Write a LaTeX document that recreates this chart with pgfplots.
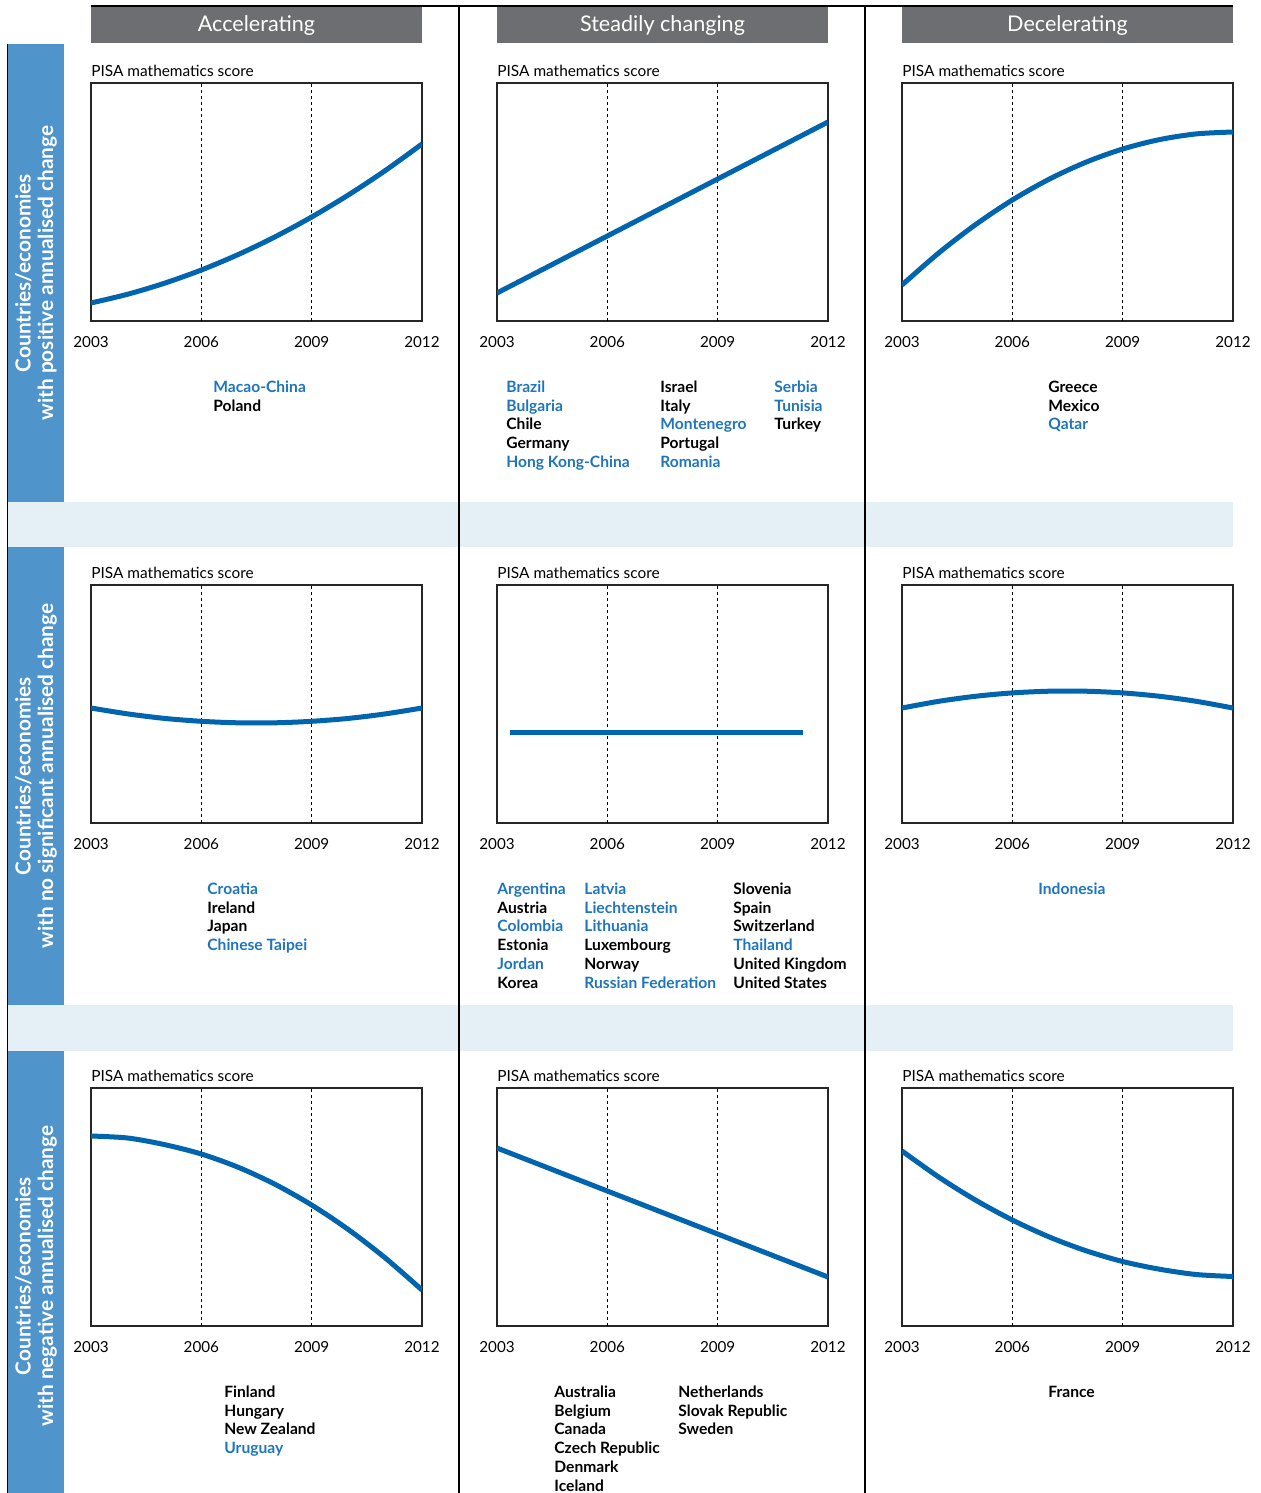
\documentclass[border=0pt]{standalone}
\usepackage{fontspec}
\setmainfont{Lato}
\usepackage{pgfplots}
\pgfplotsset{compat=1.18}

\definecolor{lineblue}{RGB}{0,101,174}
\definecolor{bandblue}{RGB}{79,148,203}
\definecolor{lightband}{RGB}{228,239,246}
\definecolor{headgray}{RGB}{109,110,113}
\definecolor{b}{RGB}{31,117,188}
\colorlet{k}{black}

\pgfplotsset{panel/.style={
    scale only axis, width=165.5pt, height=119pt, anchor=south west,
    xmin=2003, xmax=2012, ymin=0, ymax=238,
    xtick={2003,2006,2009,2012}, xticklabels={2003,2006,2009,2012},
    ytick=\empty, major tick length=0pt,
    extra x ticks={2006,2009}, extra x tick labels={},
    extra x tick style={grid=major,
      major grid style={black, line width=0.45pt, dash pattern=on 1.6pt off 1.4pt}},
    axis line style={black!85, line width=0.6pt},
    title={PISA mathematics score},
    title style={at={(0,1)}, anchor=base west, inner sep=0pt, yshift=-2.5pt,
      font=\fontsize{7.7}{9}\selectfont},
    xticklabel style={anchor=base, inner sep=0pt, yshift=-13pt,
      font=\fontsize{7.6}{9}\selectfont},
  },
  curve/.style={lineblue, line width=2.5pt, smooth, no marks}}

\newcommand{\names}[3]{%
  \foreach \c/\n [count=\i from 0] in {#3}
    \node[anchor=base west, inner sep=0pt, text=\c,
      font=\fontsize{7.8}{9}\bfseries\selectfont] at (#1,{#2+\i*18.7}) {\n};}

\begin{document}
\begin{tikzpicture}
\begin{scope}[x=0.5pt, y=-0.5pt]
  \useasboundingbox (0,0) rectangle (1260,1493);
  % background bands
  \fill[lightband] (7,502) rectangle (1233,547);
  \fill[lightband] (7,1005) rectangle (1233,1051);
  \fill[bandblue] (7,44) rectangle (64,502);
  \fill[bandblue] (7,547) rectangle (64,1005);
  \fill[bandblue] (7,1051) rectangle (64,1493);
  \draw[black, line width=0.7pt] (7.5,44) -- (7.5,1493);
  \draw[black, line width=0.7pt] (91,6) -- (1233,6);
  \draw[black, line width=0.7pt] (459,6) -- (459,1493);
  \draw[black, line width=0.7pt] (865,6) -- (865,1493);
  % column headers
  \foreach \x/\t in {91/Accelerating, 497/Steadily changing, 902/Decelerating} {
    \fill[headgray] (\x,7) rectangle ({\x+331},43);
    \node[text=white, inner sep=0pt, font=\fontsize{10.8}{12}\selectfont, anchor=base]
      at ({\x+165.5},31.5) {\t};
  }
  % row labels
  \foreach \yc/\t in {273/with positive annualised change,
                      776/with no significant annualised change,
                      1276/with negative annualised change}
    \node[rotate=90, text=white, align=center, inner sep=0pt,
      font=\fontsize{10.4}{11.2}\bfseries\selectfont] at (36,\yc)
      {Countries/economies\\\t};
  % country lists
  \names{213}{392.5}{b/Macao-China, k/Poland}
  \names{506}{392.5}{b/Brazil, b/Bulgaria, k/Chile, k/Germany, b/Hong Kong-China}
  \names{660}{392.5}{k/Israel, k/Italy, b/Montenegro, k/Portugal, b/Romania}
  \names{774}{392.5}{b/Serbia, b/Tunisia, k/Turkey}
  \names{1048}{392.5}{k/Greece, k/Mexico, b/Qatar}
  \names{207}{894.5}{b/Croatia, k/Ireland, k/Japan, b/Chinese Taipei}
  \names{497}{894.5}{b/Argentina, k/Austria, b/Colombia, k/Estonia, b/Jordan, k/Korea}
  \names{584}{894.5}{b/Latvia, b/Liechtenstein, b/Lithuania, k/Luxembourg, k/Norway, b/Russian Federation}
  \names{733}{894.5}{k/Slovenia, k/Spain, k/Switzerland, b/Thailand, k/United Kingdom, k/United States}
  \names{1038}{894.5}{b/Indonesia}
  \names{224}{1397.5}{k/Finland, k/Hungary, k/New Zealand, b/Uruguay}
  \names{554}{1397.5}{k/Australia, k/Belgium, k/Canada, k/Czech Republic, k/Denmark, k/Iceland}
  \names{678}{1397.5}{k/Netherlands, k/Slovak Republic, k/Sweden}
  \names{1048}{1397.5}{k/France}
\end{scope}

% ---- row 1: positive change
\begin{axis}[panel, at={(45.5pt,-160.5pt)}]
\addplot[curve] coordinates {(2003,18) (2004,26.8) (2005,37.8) (2006,51) (2007,66.4)
  (2008,84.1) (2009,104) (2010,126.1) (2011,150.4) (2012,177)};
\end{axis}
\begin{axis}[panel, at={(248.5pt,-160.5pt)}]
\addplot[curve] coordinates {(2003,28) (2012,199)};
\end{axis}
\begin{axis}[panel, at={(451pt,-160.5pt)}]
\addplot[curve] coordinates {(2003,36) (2004,68.1) (2005,96.4) (2006,121) (2007,141.8)
  (2008,158.8) (2009,172) (2010,181.4) (2011,187.1) (2012,189)};
\end{axis}

% ---- row 2: no significant change
\begin{axis}[panel, at={(45.5pt,-411.5pt)}]
\addplot[curve] coordinates {(2003,115) (2004,109.1) (2005,104.6) (2006,101.7) (2007,100.2)
  (2008,100.2) (2009,101.7) (2010,104.6) (2011,109.1) (2012,115)};
\end{axis}
\begin{axis}[panel, at={(248.5pt,-411.5pt)}]
\addplot[curve] coordinates {(2003.35,91) (2011.32,91)};
\end{axis}
\begin{axis}[panel, at={(451pt,-411.5pt)}]
\addplot[curve] coordinates {(2003,115) (2004,121.7) (2005,126.75) (2006,130.1) (2007,131.8)
  (2008,131.8) (2009,130.1) (2010,126.75) (2011,121.7) (2012,115)};
\end{axis}

% ---- row 3: negative change
\begin{axis}[panel, at={(45.5pt,-663pt)}]
\addplot[curve] coordinates {(2003,190) (2004,188) (2005,181.4) (2006,172) (2007,158.8)
  (2008,141.8) (2009,121) (2010,96.4) (2011,68.1) (2012,36)};
\end{axis}
\begin{axis}[panel, at={(248.5pt,-663pt)}]
\addplot[curve] coordinates {(2003,178) (2012,49)};
\end{axis}
\begin{axis}[panel, at={(451pt,-663pt)}]
\addplot[curve] coordinates {(2003,175) (2004,148.9) (2005,125.9) (2006,106) (2007,89.1)
  (2008,75.3) (2009,64.5) (2010,56.8) (2011,51.5) (2012,49.5)};
\end{axis}
\end{tikzpicture}
\end{document}
